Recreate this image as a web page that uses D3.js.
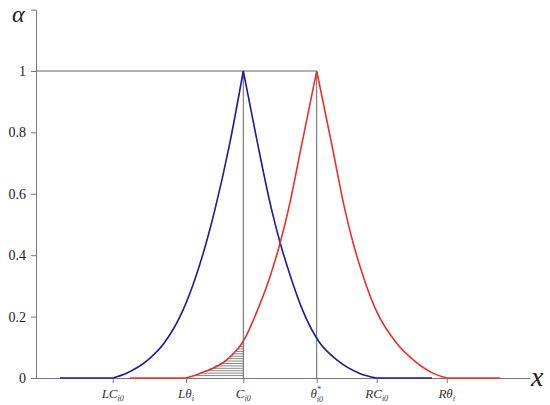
<!DOCTYPE html>
<html>
    <head>
        <style>
            body { margin: 0; background: #fff; }
            svg { background: #fff; }
            text { font-family: "Liberation Serif", "Times New Roman", "DejaVu Serif", serif; }
        </style>
    </head>
    <body>
        <div id="chart"></div>

        <script src="https://cdnjs.cloudflare.com/ajax/libs/d3/7.8.5/d3.min.js"></script>

    <script>
        // tick positions on the x axis (arbitrary units) and their labels
        var xTickValues = [7.67, 15.0, 20.73, 28.07, 34.07, 41.07];
        var xTickMain = ["LC", "L\u03b8", "C", "\u03b8", "RC", "R\u03b8"];
        var xTickSup = ["", "", "", "*", "", ""];
        var xTickSub = ["i0", "i", "i0", "i0", "i0", "i"];
        var yTickValues = [0, 0.2, 0.4, 0.6, 0.8, 1];

        // blue membership curve
        var blueX = [2.4, 7.67, 9.0, 11.2, 12.8, 14.7, 15.98, 17.01, 17.88, 19.35, 20.73,
                     22.18, 23.57, 24.43, 25.46, 26.66, 28.3, 30.08, 32.38, 34.07, 39.6];
        var blueA = [0, 0, 0.015, 0.059, 0.113, 0.221, 0.33, 0.439, 0.547, 0.76, 1,
                     0.76, 0.547, 0.439, 0.33, 0.221, 0.118, 0.059, 0.015, 0, 0];

        // red membership curve
        var redX = [9.4, 15.0, 16.4, 19.07, 20.73, 22.15, 23.4, 24.4, 25.23, 26.57, 28.07,
                    29.58, 30.9, 31.72, 32.73, 34.0, 36.07, 37.73, 39.73, 41.07, 46.4];
        var redA = [0, 0, 0.015, 0.059, 0.12, 0.221, 0.33, 0.439, 0.547, 0.76, 1,
                    0.76, 0.547, 0.439, 0.33, 0.221, 0.113, 0.059, 0.015, 0, 0];

        (function() {
            var width = 550,
            height = 405;

            var svg = d3.select("#chart")
                .append("svg")
                .attr("width", width)
                .attr("height", height);

            var x = d3.scaleLinear().domain([0, 49.4]).range([36, 530]);
            var y = d3.scaleLinear().domain([0, 1.2]).range([378, 9.6]);

            var axisColor = "#777";
            var serif = "'Liberation Serif', 'Times New Roman', 'DejaVu Serif', serif";

            // y axis
            var yAxis = svg.append("g")
                .attr("transform", "translate(" + x(0) + ",0)")
                .call(d3.axisLeft(y).tickValues(yTickValues).tickSize(5).tickSizeOuter(5)
                    .tickFormat(function(d) { return String(d); }))
                .attr("font-family", serif)
                .attr("font-size", 14);
            yAxis.select(".domain").attr("stroke", axisColor);
            yAxis.selectAll(".tick line").attr("stroke", axisColor);
            yAxis.selectAll(".tick text")
                .attr("fill", "#222")
                .attr("x", -10);

            // x axis
            var xAxis = svg.append("g")
                .attr("transform", "translate(0," + y(0) + ")")
                .call(d3.axisBottom(x).tickValues(xTickValues).tickSize(5).tickSizeOuter(0)
                    .tickFormat(""));
            xAxis.select(".domain").attr("stroke", axisColor);
            xAxis.selectAll(".tick line").attr("stroke", axisColor);

            xTickValues.forEach(function(v, i) {
                var t = svg.append("text")
                    .attr("x", x(v))
                    .attr("y", 398)
                    .attr("text-anchor", "middle")
                    .attr("font-family", serif)
                    .attr("font-style", "italic")
                    .attr("font-size", 13)
                    .attr("fill", "#333");
                t.append("tspan").text(xTickMain[i]);
                if (xTickSup[i]) {
                    t.append("tspan").attr("dy", -6).attr("font-size", 8).text(xTickSup[i]);
                    t.append("tspan").attr("dx", -4).attr("dy", 10).attr("font-size", 8).text(xTickSub[i]);
                } else {
                    t.append("tspan").attr("dy", 3).attr("font-size", 8).text(xTickSub[i]);
                }
            });

            // axis titles
            svg.append("text")
                .attr("x", 12).attr("y", 22)
                .attr("font-family", serif)
                .attr("font-style", "italic")
                .attr("font-size", 24)
                .attr("fill", "#222")
                .text("\u03b1");
            svg.append("text")
                .attr("x", 531).attr("y", 386)
                .attr("font-family", serif)
                .attr("font-style", "italic")
                .attr("font-size", 28)
                .attr("fill", "#222")
                .text("x");

            // guide lines
            var guide = "#666";
            svg.append("line")
                .attr("x1", x(0)).attr("x2", x(xTickValues[3]))
                .attr("y1", y(1)).attr("y2", y(1))
                .attr("stroke", guide).attr("stroke-width", 1);
            [xTickValues[2], xTickValues[3]].forEach(function(v) {
                svg.append("line")
                    .attr("x1", x(v)).attr("x2", x(v))
                    .attr("y1", y(1)).attr("y2", y(0))
                    .attr("stroke", guide).attr("stroke-width", 1);
            });

            // hatching under red curve between L-theta and C
            var redLeftX = redX.slice(1, 11), redLeftA = redA.slice(1, 11);
            var invRed = d3.scaleLinear().domain(redLeftA).range(redLeftX);
            var cPos = xTickValues[2];
            var topA = d3.scaleLinear().domain(redLeftX).range(redLeftA)(cPos) * 0.92;
            var step = (y(0) - y(topA)) / 14;
            d3.range(1, 15).forEach(function(k) {
                var a = y.invert(y(0) - k * step);
                svg.append("line")
                    .attr("x1", x(invRed(a))).attr("x2", x(cPos))
                    .attr("y1", y(a)).attr("y2", y(a))
                    .attr("stroke", "#555").attr("stroke-width", 0.7);
            });

            var line = d3.line()
                .x(function(d) { return x(d[0]); })
                .y(function(d) { return y(d[1]); })
                .curve(d3.curveMonotoneX);

            // each curve drawn as flat / rising / falling / flat pieces so the peak stays sharp
            function drawCurve(xs, as, color) {
                var pts = xs.map(function(v, i) { return [v, as[i]]; });
                var peak = as.indexOf(1);
                var pieces = [pts.slice(0, 2), pts.slice(1, peak + 1),
                              pts.slice(peak, pts.length - 1), pts.slice(pts.length - 2)];
                pieces.forEach(function(p) {
                    svg.append("path")
                        .datum(p)
                        .attr("d", line)
                        .attr("fill", "none")
                        .attr("stroke", color)
                        .attr("stroke-width", 1.6)
                        .attr("stroke-linejoin", "round");
                });
            }
            drawCurve(blueX, blueA, "#1c1c96");
            drawCurve(redX, redA, "#e8302c");
        })();
    </script>
    </body>
</html>
